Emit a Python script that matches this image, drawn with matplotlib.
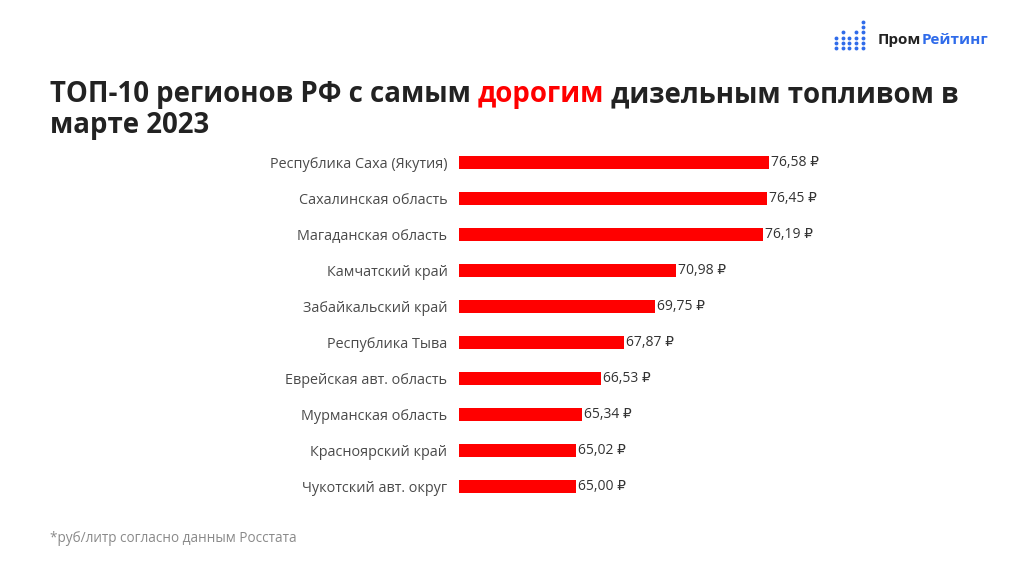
import matplotlib.pyplot as plt

# Data
regions = ['Республика Саха (Якутия)', 'Сахалинская область', 'Магаданская область',
           'Камчатский край', 'Забайкальский край', 'Республика Тыва',
           'Еврейская авт. область', 'Мурманская область', 'Красноярский край',
           'Чукотский авт. округ']
prices = [76.58, 76.45, 76.19, 70.98, 69.75, 67.87, 66.53, 65.34, 65.02, 65.00]

plt.rcParams['font.family'] = ['Open Sans', 'DejaVu Sans']

W, H = 1030, 579
fig = plt.figure(figsize=(W / 100, H / 100), dpi=100)
fig.patch.set_facecolor('white')

# axes placed in pixel terms
left, right, top, bottom = 459.3, 980, 144.5, 504.5
ax = fig.add_axes([left / W, 1 - bottom / H, (right - left) / W, (bottom - top) / H])
xmin = 58
scale = 16.67  # px per rouble
ax.set_xlim(xmin, xmin + (right - left) / scale)
ax.set_ylim(len(regions) - 0.5, -0.5)

ypos = list(range(len(regions)))
ax.barh(ypos, [p - xmin for p in prices], left=xmin, height=0.34, color='#ff0000')
for y, p in zip(ypos, prices):
    ax.text(p + 0.12, y, f'{p:.2f}'.replace('.', ',') + ' ₽', va='center', ha='left',
            fontsize=10, color='#333333')

ax.set_yticks(ypos)
ax.set_yticklabels(regions, fontsize=10.4, color='#4a4a4a')
ax.tick_params(axis='y', length=0, pad=8.5)
ax.set_xticks([])
for s in ax.spines.values():
    s.set_visible(False)

# Title with a red word
renderer = fig.canvas.get_renderer()
parts = [('ТОП-10 регионов РФ с самым ', '#222222'), ('дорогим', '#ff0000'),
         (' дизельным топливом в', '#222222')]
x = 50 / W
y1 = 1 - 102 / H
for txt, col in parts:
    t = fig.text(x, y1, txt, fontsize=19.9, fontweight='bold', color=col, ha='left', va='baseline')
    bb = t.get_window_extent(renderer)
    x += bb.width / W
fig.text(50 / W, 1 - 133 / H, 'марте 2023', fontsize=19.9, fontweight='bold',
         color='#222222', ha='left', va='baseline')

# Footnote
fig.text(50 / W, 1 - 542 / H, '*руб/литр согласно данным Росстата', fontsize=9.8,
         color='#8a8a8a', ha='left', va='baseline')

# Logo
cols = [3, 4, 3, 4, 6]
dx, dy = [], []
for i, n in enumerate(cols):
    for j in range(n):
        dx.append((836 + i * 6.67) / W)
        dy.append(1 - (48.3 - j * 5.33) / H)
fig.add_artist(plt.Line2D(dx, dy, transform=fig.transFigure, ls='none', marker='o',
                          ms=2.8, mew=0, color='#2f6bea'))
t = fig.text(878 / W, 1 - 44 / H, 'Пром', fontsize=11, fontweight='bold', color='#222222',
             ha='left', va='baseline')
bb = t.get_window_extent(renderer)
fig.text(878 / W + bb.width / W, 1 - 44 / H, 'Рейтинг', fontsize=11, fontweight='bold',
         color='#2f6bea', ha='left', va='baseline')

fig.savefig('out.png', dpi=100, facecolor='white')
